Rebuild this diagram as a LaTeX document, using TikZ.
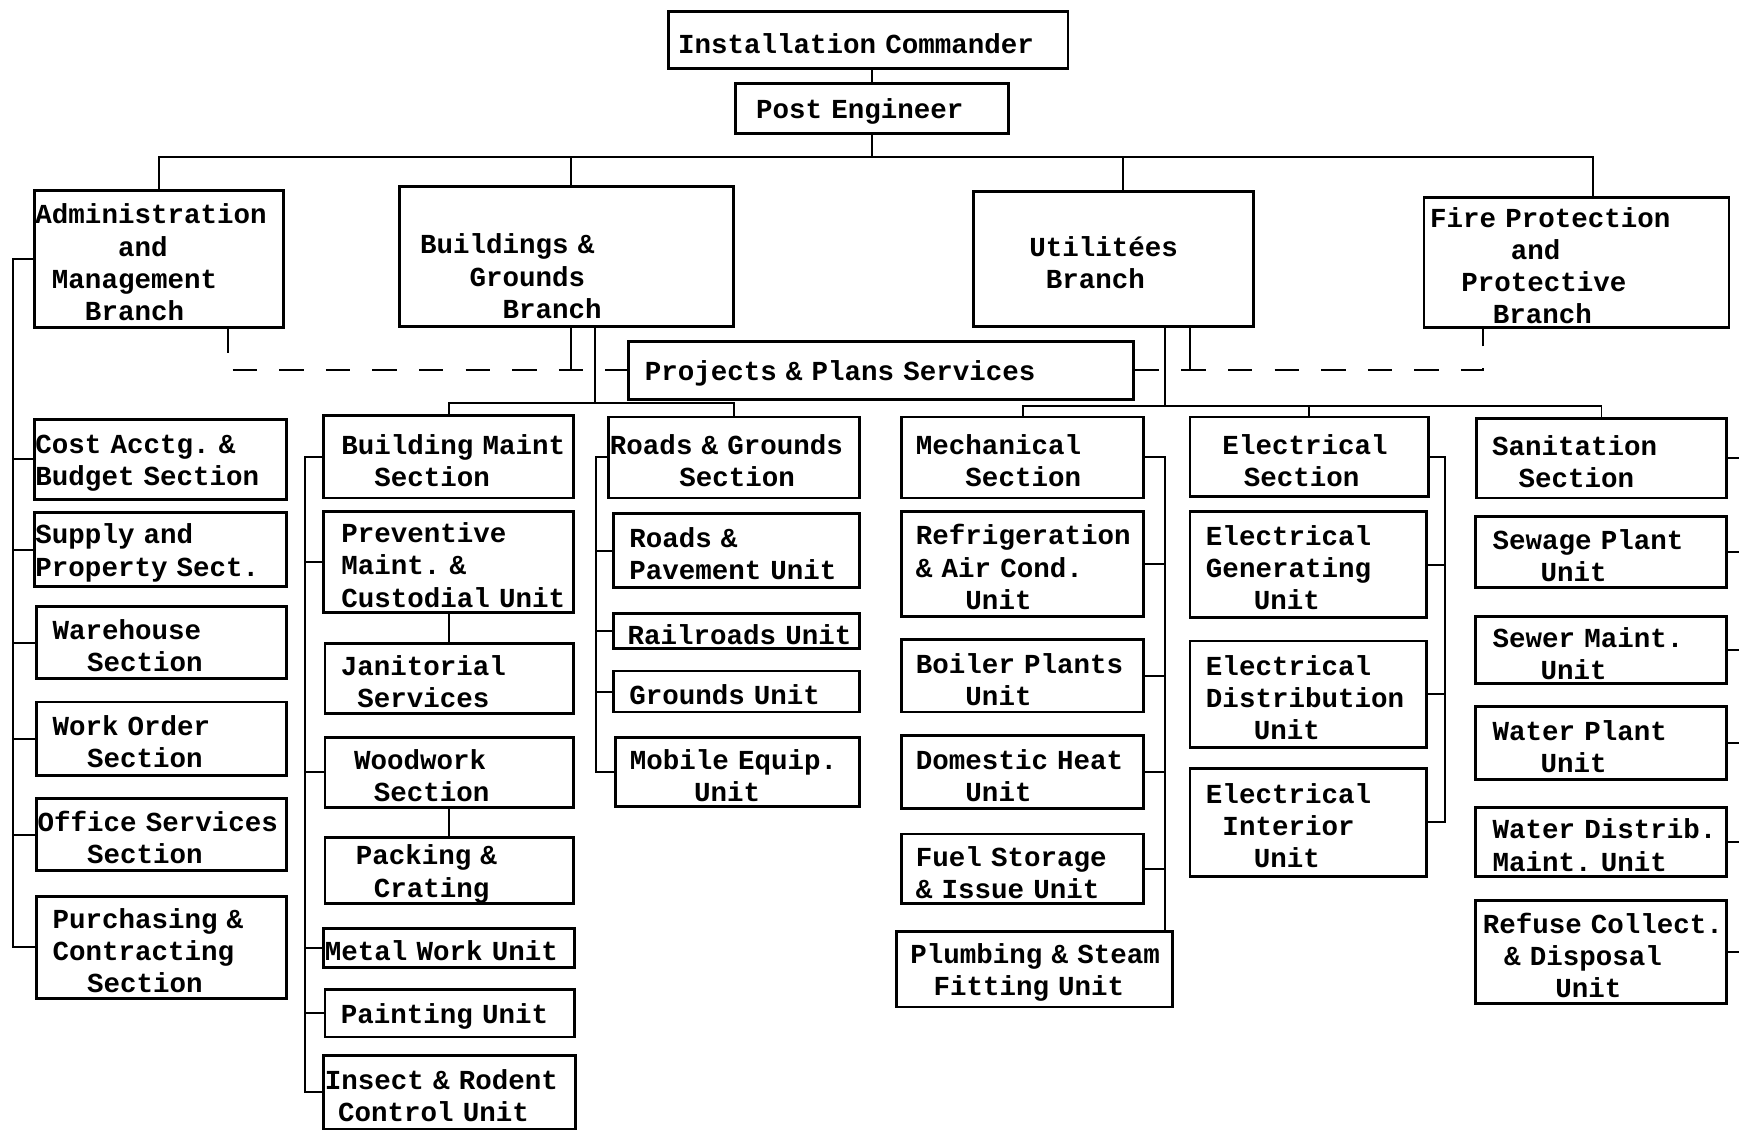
\documentclass[tikz,border=0pt]{standalone}
\usepackage{fontspec}
\setmonofont{Liberation Mono}
\usepackage{tikz}

% typewriter indent, in characters
\newcommand{\pad}[1]{\hspace*{\dimexpr#1em*6/10\relax}}
% typewriter word space
\newcommand{\typespace}{\fontdimen2\font=0.6em\relax\fontdimen3\font=0pt\relax\fontdimen4\font=0pt\relax}

\begin{document}
\begin{tikzpicture}[x=1pt, y=-1pt,
        font=\ttfamily\bfseries\frenchspacing\fontsize{24.8}{29}\selectfont\typespace,
        box/.style 2 args={draw, line width=2.6pt, minimum width=#1, minimum height=#2,
            text width=#1-2, text height=24pt, inner xsep=1, inner ysep=0, align=left},
        link/.style={line width=1.8pt},
        dashlink/.style={line width=1.8pt, dash pattern=on 22pt off 20pt}]
        \useasboundingbox (0,0) rectangle (1568,1020);

        % --- TOP ---
        \node[box={360}{52}] (ic) at (783,36) {\pad{0.5}Installation Commander};
        \node[box={246}{45}] (pe) at (786,97.5) {\pad{1.2}Post Engineer};

        % --- BRANCHES ---
        \node[box={225}{123}] (adm) at (143.5,233.5) {Administration\\\pad{5}and\\\pad{1}Management\\\pad{3}Branch};
        \node[box={301}{126}, text height=54pt] (bg) at (510.5,231) {\pad{1.2}Buildings \&\\\pad{4.2}Grounds\\\pad{6.2}Branch};
        \node[box={252}{121}] (ut) at (1004,233.5) {\pad{3.3}Utilitées\\\pad{4.3}Branch};
        \node[box={275}{117}] (fire) at (1421.5,236.5) {\pad{0.3}Fire Protection\\\pad{5.2}and\\\pad{2.2}Protective\\\pad{4.1}Branch};
        \node[box={455}{52}] (pp) at (794.5,334) {\pad{0.9}Projects \& Plans Services};

        % --- ADMINISTRATION ---
        \node[box={227}{72}] (cost) at (144.5,414) {Cost Acctg. \&\\Budget Section};
        \node[box={227}{67}] (sup) at (144.5,495.5) {Supply and\\Property Sect.};
        \node[box={225}{65}] (ware) at (145.5,579.5) {\pad{0.9}Warehouse\\\pad{3}Section};
        \node[box={225}{66}] (wo) at (145.5,666) {\pad{0.9}Work Order\\\pad{3}Section};
        \node[box={225}{65}] (off) at (145.5,752.5) {Office~Services\\\pad{3}Section};
        \node[box={225}{92}] (pur) at (145.5,854) {\pad{0.9}Purchasing \&\\\pad{0.9}Contracting\\\pad{3}Section};

        % --- BUILDINGS ---
        \node[box={225}{74}] (bm) at (404.5,412) {\pad{1}Building~Maint\\\pad{3}Section};
        \node[box={225}{91}] (prev) at (404.5,506.5) {\pad{1}Preventive\\\pad{1}Maint. \&\\\pad{1}Custodial~Unit};
        \node[box={224}{63}] (jan) at (405,611.5) {\pad{0.9}Janitorial\\\pad{1.9}Services};
        \node[box={224}{63}] (wood) at (405,696.5) {\pad{1.7}Woodwork\\\pad{2.9}Section};
        \node[box={224}{60}] (pack) at (405,785) {\pad{1.8}Packing \&\\\pad{2.9}Crating};
        \node[box={226}{35}] (metal) at (405,854.5) {Metal~Work~Unit};
        \node[box={225}{43}] (paint) at (405.5,913.5) {\pad{0.9}Painting Unit};
        \node[box={227}{66}] (insect) at (405.5,985) {Insect~\&~Rodent\\\pad{0.8}Control Unit};

        % --- ROADS & GROUNDS ---
        \node[box={226}{73}] (rg) at (662,412.5) {Roads~\&~Grounds\\\pad{4.2}Section};
        \node[box={222}{67}] (rp) at (664,496.5) {\pad{0.9}Roads \&\\\pad{0.9}Pavement Unit};
        \node[box={222}{32}] (rail) at (664,569) {\pad{0.8}Railroads~Unit};
        \node[box={222}{37}] (gr) at (664,623.5) {\pad{0.9}Grounds Unit};
        \node[box={220}{62}] (mob) at (665,696) {\pad{0.8}Mobile Equip.\\\pad{4.7}Unit};

        % --- MECHANICAL ---
        \node[box={218}{73}] (mech) at (922,412.5) {\pad{0.8}Mechanical\\\pad{3.8}Section};
        \node[box={218}{95}] (refr) at (922,508.5) {\pad{0.8}Refrigeration\\\pad{0.8}\& Air Cond.\\\pad{3.8}Unit};
        \node[box={218}{65}] (boil) at (922,609.5) {\pad{0.8}Boiler Plants\\\pad{3.8}Unit};
        \node[box={218}{66}] (dom) at (922,696) {\pad{0.8}Domestic Heat\\\pad{3.8}Unit};
        \node[box={218}{63}] (fuel) at (922,783.5) {\pad{0.8}Fuel Storage\\\pad{0.8}\& Issue Unit};
        \node[box={249}{68}] (plumb) at (932.5,874) {\pad{0.8}\mbox{Plumbing \& Steam}\\\pad{2.2}Fitting Unit};

        % --- ELECTRICAL ---
        \node[box={215}{72}] (el) at (1180.5,412) {\pad{1.9}Electrical\\\pad{3.2}Section};
        \node[box={213}{96}] (elg) at (1179.5,509) {\pad{0.9}Electrical\\\pad{0.9}Generating\\\pad{3.8}Unit};
        \node[box={213}{96}] (eld) at (1179.5,626) {\pad{0.9}Electrical\\\pad{0.9}Distribution\\\pad{3.8}Unit};
        \node[box={213}{97}] (eli) at (1179.5,741.5) {\pad{0.9}Electrical\\\pad{1.9}Interior\\\pad{3.8}Unit};

        % --- SANITATION ---
        \node[box={226}{72}] (san) at (1444,413) {\pad{0.9}Sanitation\\\pad{2.5}Section};
        \node[box={227}{64}] (sew) at (1443.5,498) {\pad{1}Sewage Plant\\\pad{3.9}Unit};
        \node[box={227}{60}] (swm) at (1443.5,586) {\pad{1}Sewer Maint.\\\pad{3.9}Unit};
        \node[box={227}{66}] (wp) at (1443.5,670) {\pad{1}Water Plant\\\pad{3.9}Unit};
        \node[box={227}{62}] (wd) at (1443.5,759) {\pad{1}Water~Distrib.\\\pad{1}Maint. Unit};
        \node[box={227}{93}] (ref) at (1443.5,858.5) {\pad{0.4}\mbox{Refuse Collect.}\\\pad{1.7}\& Disposal\\\pad{4.8}Unit};

        % --- COORDINATES ---
        \coordinate (bus) at (0,142);
        \coordinate (busB) at (0,363);
        \coordinate (busC) at (0,366);
        \coordinate (bgtop) at ([xshift=4]bg.north);
        \coordinate (uttop) at ([xshift=9]ut.north);
        \coordinate (firetop) at ([xshift=15]fire.north);
        \coordinate (admfoot) at ([xshift=62]adm.south);
        \coordinate (bgfoot) at ([xshift=4]bg.south);
        \coordinate (bgfeed) at ([xshift=26]bg.south);
        \coordinate (utfeed) at ([xshift=46]ut.south);
        \coordinate (utfoot) at ([xshift=69]ut.south);
        \coordinate (firefoot) at ([xshift=-84]fire.south);
        \coordinate (spA) at (12,0);
        \coordinate (spB) at (275,0);
        \coordinate (spC) at (537,0);
        \coordinate (spD) at (1050,0);
        \coordinate (spE) at (1303,0);
        \coordinate (edge) at (1568,0);

        % --- TOP LINKS ---
        \draw[link] (pe.north) -- (pe.north |- ic.south);
        \draw[link] (pe.south) -- (pe.south |- bus);
        \draw[link] (adm.north) |- (firetop |- bus) -- (firetop);
        \draw[link] (bgtop) -- (bgtop |- bus);
        \draw[link] (uttop) -- (uttop |- bus);

        % --- PROJECTS & PLANS (dashed) ---
        \draw[dashlink] (admfoot) |- (pp.west);
        \draw[dashlink] (pp.east) -| (firefoot);
        \draw[link] (bgfoot) -- (bgfoot |- pp.west);
        \draw[link] (utfoot) -- (utfoot |- pp.east);

        % --- SECTION FEEDS ---
        \draw[link] (bgfeed) -- (bgfeed |- busB);
        \draw[link] (bm.north) |- (busB -| rg.north) -- (rg.north);
        \draw[link] (utfeed) -- (utfeed |- busC);
        \draw[link] (mech.north) |- (busC -| san.north) -- (san.north);
        \draw[link] (el.north) -- (el.north |- busC);

        % --- COLUMNS ---
        \draw[link] (adm.west) -| (spA |- pur.west) -- (pur.west);
        \foreach \n in {cost,sup,ware,wo,off}
            \draw[link] (\n.west) -- (\n.west -| spA);

        \draw[link] (bm.west) -| (spB |- insect.west) -- (insect.west);
        \foreach \n in {prev,wood,metal,paint}
            \draw[link] (\n.west) -- (\n.west -| spB);
        \draw[link] (prev.south) -- (prev.south |- jan.north);
        \draw[link] (wood.south) -- (wood.south |- pack.north);

        \draw[link] (rg.west) -| (spC |- mob.west) -- (mob.west);
        \foreach \n in {rp,rail,gr}
            \draw[link] (\n.west) -- (\n.west -| spC);

        \draw[link] (mech.east) -| (spD |- plumb.north);
        \foreach \n in {refr,boil,dom,fuel}
            \draw[link] (\n.east) -- (\n.east -| spD);

        \draw[link] (el.east) -| (spE |- eli.east) -- (eli.east);
        \foreach \n in {elg,eld}
            \draw[link] (\n.east) -- (\n.east -| spE);

        \foreach \n in {san,sew,swm,wp,wd,ref}
            \draw[link] (\n.east) -- (\n.east -| edge);

    \end{tikzpicture}
\end{document}
